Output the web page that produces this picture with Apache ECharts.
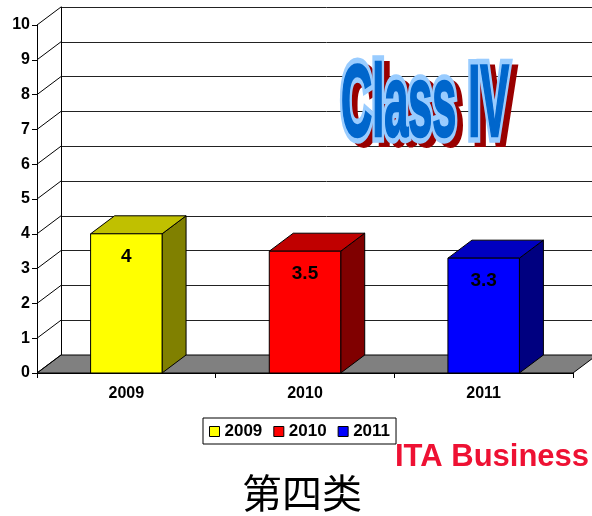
<!DOCTYPE html>
<html>
<head>
<meta charset="utf-8">
<script src="https://cdn.jsdelivr.net/npm/echarts@6/dist/echarts.min.js"></script>
<style>
  html, body { margin: 0; padding: 0; background: #fff; }
  #main { width: 592px; height: 516px; }
</style>
</head>
<body>
<div id="main"></div>
<script>
// 数据
const categories = ['2009', '2010', '2011'];
const values = [4, 3.5, 3.3];
const yTicks = [0, 1, 2, 3, 4, 5, 6, 7, 8, 9, 10];

// 颜色：正面 / 顶面 / 侧面
const faceColors = ['#FFFF00', '#FF0000', '#0000FF'];
const topColors = ['#C0C000', '#C00000', '#0000C0'];
const sideColors = ['#808000', '#800000', '#000080'];

// 立体深度（背板相对前平面的偏移）
const DX = 24, DY = -18;
const FRONT = { left: 37, top: 25, width: 536, height: 348 };

const FONT = '"Liberation Sans", Arial, sans-serif';

let myChart = echarts.init(document.getElementById('main'));

// 柱子：正面 + 顶面 + 侧面
function renderBar(params, api) {
  const i = params.seriesIndex - 1;
  const p = api.coord([api.value(0), api.value(1)]);
  const base = api.coord([api.value(0), 0]);
  const w = api.size([1, 0])[0] * 0.4;
  const l = p[0] - w / 2, r = p[0] + w / 2, t = p[1], b = base[1];
  const line = { stroke: '#000', lineWidth: 1 };
  return {
    type: 'group',
    children: [
      { type: 'polygon', shape: { points: [[r, t], [r + DX, t + DY], [r + DX, b + DY], [r, b]] },
        style: Object.assign({ fill: sideColors[i] }, line) },
      { type: 'polygon', shape: { points: [[l, t], [r, t], [r + DX, t + DY], [l + DX, t + DY]] },
        style: Object.assign({ fill: topColors[i] }, line) },
      { type: 'rect', shape: { x: l, y: t, width: w, height: b - t },
        style: Object.assign({ fill: faceColors[i] }, line) },
      { type: 'text', x: p[0], y: t + 23,
        style: { text: String(api.value(1)), font: 'bold 19px ' + FONT, fill: '#000',
          align: 'center', verticalAlign: 'middle' } }
    ]
  };
}

// 地板 + 左侧斜线
function renderFrame(params, api) {
  const cs = params.coordSys;
  const p = api.coord([0, api.value(1)]);
  const x0 = cs.x, y = p[1];
  const children = [
    { type: 'line', shape: { x1: x0, y1: y, x2: x0 + DX, y2: y + DY },
      style: { stroke: '#000', lineWidth: 1 } }
  ];
  if (api.value(1) === 0) {
    children.unshift({
      type: 'polygon',
      shape: { points: [[x0, y], [x0 + cs.width, y], [x0 + cs.width + DX, y + DY], [x0 + DX, y + DY]] },
      style: { fill: '#808080', stroke: '#000', lineWidth: 1 }
    });
  }
  return { type: 'group', children: children };
}

let series = [{
  name: 'frame',
  type: 'custom',
  xAxisIndex: 0, yAxisIndex: 0,
  z: 2,
  silent: true,
  renderItem: renderFrame,
  data: yTicks.map(v => [0, v])
}];
categories.forEach((c, i) => {
  series.push({
    name: c,
    type: 'custom',
    xAxisIndex: 0, yAxisIndex: 0,
    z: 3,
    itemStyle: { color: faceColors[i] },
    renderItem: renderBar,
    data: [[i, values[i]]]
  });
});

// 艺术字 Class IV
const wordArt = { x: 425, y: 108, scaleX: 0.72, scaleY: 1.7 };
const artFont = 'bold 60px ' + FONT;

let option = {
  animation: false,
  backgroundColor: '#fff',
  grid: [
    // 前平面
    { left: FRONT.left, top: FRONT.top, width: FRONT.width, height: FRONT.height },
    // 背板
    { left: FRONT.left + DX, top: FRONT.top + DY, width: FRONT.width, height: FRONT.height }
  ],
  xAxis: [
    { type: 'category', gridIndex: 0, data: categories,
      axisLine: { lineStyle: { color: '#000' } },
      axisTick: { show: true, length: 5, lineStyle: { color: '#000' } },
      axisLabel: { color: '#000', fontFamily: FONT, fontWeight: 'bold', fontSize: 16, margin: 13 },
      splitLine: { show: false } },
    { type: 'category', gridIndex: 1, data: categories, show: false }
  ],
  yAxis: [
    { type: 'value', gridIndex: 0, min: 0, max: 10, interval: 1,
      axisLine: { show: true, lineStyle: { color: '#000' } },
      axisTick: { show: true, length: 5, lineStyle: { color: '#000' } },
      axisLabel: { color: '#000', fontFamily: FONT, fontWeight: 'bold', fontSize: 16, margin: 7 },
      splitLine: { show: false } },
    { type: 'value', gridIndex: 1, min: 0, max: 10, interval: 1,
      axisLine: { show: true, lineStyle: { color: '#000' } },
      axisTick: { show: false },
      axisLabel: { show: false },
      splitLine: { show: true, lineStyle: { color: '#222', width: 1 } } }
  ],
  legend: {
    data: categories,
    left: 203, top: 418,
    orient: 'horizontal',
    icon: 'rect',
    itemWidth: 10, itemHeight: 10, itemGap: 11,
    padding: [5, 6, 4, 6],
    borderColor: '#000', borderWidth: 1,
    itemStyle: { borderColor: '#000', borderWidth: 1 },
    textStyle: { color: '#000', fontFamily: FONT, fontWeight: 'bold', fontSize: 17 },
    selectedMode: false
  },
  graphic: [
    // 阴影
    { type: 'text', x: wordArt.x + 6, y: wordArt.y + 5, scaleX: wordArt.scaleX, scaleY: wordArt.scaleY, z: 10,
      style: { text: 'Class IV', font: artFont, fill: '#990000', stroke: '#990000',
        lineWidth: 7, align: 'center', verticalAlign: 'middle' } },
    // 浅蓝描边
    { type: 'text', x: wordArt.x, y: wordArt.y, scaleX: wordArt.scaleX, scaleY: wordArt.scaleY, z: 11,
      style: { text: 'Class IV', font: artFont, fill: '#99CCFF', stroke: '#99CCFF',
        lineWidth: 8, align: 'center', verticalAlign: 'middle' } },
    // 蓝色字体
    { type: 'text', x: wordArt.x, y: wordArt.y, scaleX: wordArt.scaleX, scaleY: wordArt.scaleY, z: 12,
      style: { text: 'Class IV', font: artFont, fill: '#0066CC', stroke: '#0066CC',
        lineWidth: 1.5, align: 'center', verticalAlign: 'middle' } },
    { type: 'text', x: 395, y: 457, z: 10,
      style: { text: 'ITA Business', font: 'bold 31px ' + FONT, fill: '#EE1133',
        align: 'left', verticalAlign: 'middle' } },
    { type: 'text', x: 302, y: 493, z: 10,
      style: { text: '第四类', font: '40px "Noto Sans CJK SC"', fill: '#000',
        align: 'center', verticalAlign: 'middle' } }
  ],
  series: series
};

myChart.setOption(option);
</script>
</body>
</html>
